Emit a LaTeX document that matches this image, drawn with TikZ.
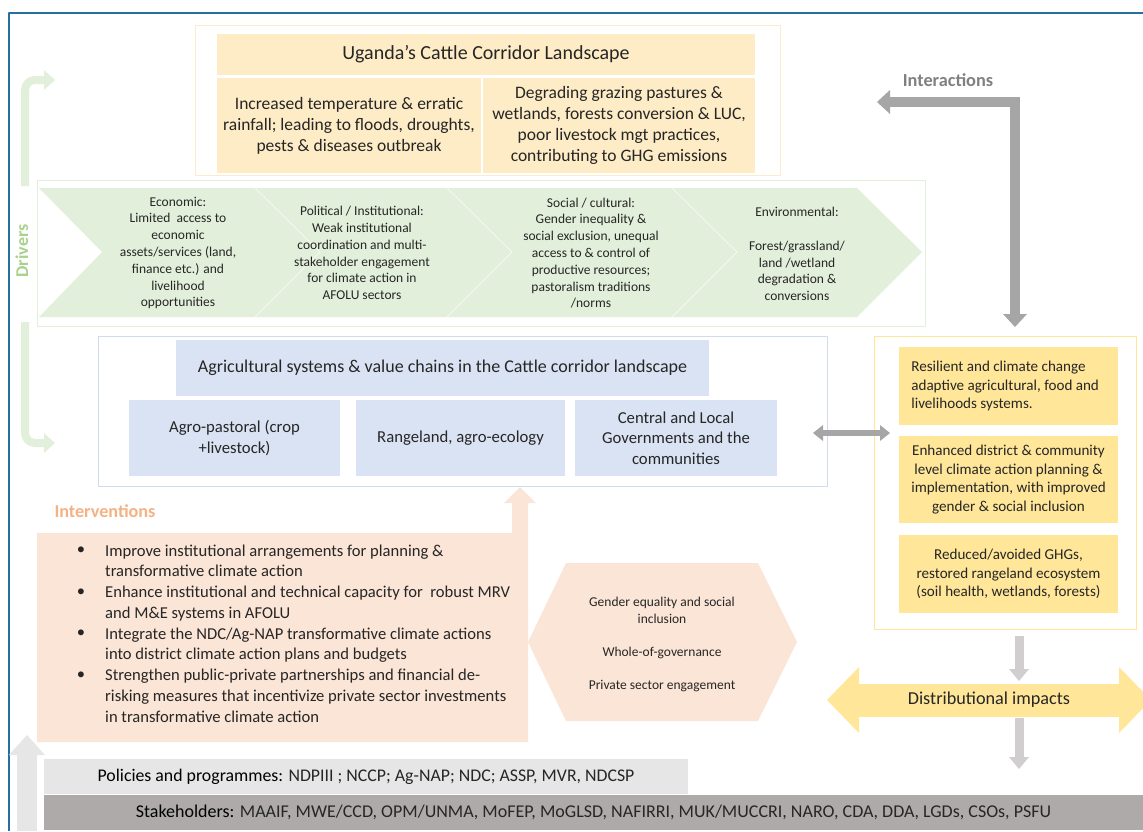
\documentclass[tikz,border=0pt]{standalone}
\usepackage{fontspec}
\setmainfont{Carlito}
\usetikzlibrary{arrows.meta}
\definecolor{frameblue}{RGB}{40,110,160}
\definecolor{sandfill}{RGB}{253,236,198}
\definecolor{sandline}{RGB}{252,236,205}
\definecolor{leaf}{RGB}{226,239,218}
\definecolor{leafdark}{RGB}{169,209,142}
\definecolor{sky}{RGB}{218,227,243}
\definecolor{skyline}{RGB}{208,219,240}
\definecolor{gold}{RGB}{255,230,153}
\definecolor{peach}{RGB}{251,229,214}
\definecolor{peachdark}{RGB}{244,177,131}
\definecolor{arrowgray}{RGB}{166,166,166}
\definecolor{softgray}{RGB}{208,206,206}
\definecolor{barlight}{RGB}{231,230,230}
\definecolor{bardark}{RGB}{174,170,170}
\newcommand{\fsz}[2]{\fontsize{#1}{#2}\selectfont}
\begin{document}
\begin{tikzpicture}[x=1pt,y=-1pt,line join=round,
  every node/.style={text=black!85},
  box/.style={inner sep=0pt,align=center},
  rim/.style={draw=#1,line width=0.8pt,inner sep=0pt},
  drvtext/.style={align=center,font=\fsz{13.5}{16.8}},
  outtext/.style={font=\fsz{15.1}{18.7}}]
	\useasboundingbox (0,0) rectangle (1143,831);
	\draw[frameblue,line width=1.2pt] (9,831) -- (9,13) -- (1143,13);
	\node[rim=sandline,minimum width=585pt,minimum height=150pt] (landscape) at (487.5,100) {};
	\node[box,fill=sandfill,minimum width=538pt,minimum height=41pt,font=\fsz{20}{22}] (ltitle) at (486,54.5) {Uganda’s Cattle Corridor Landscape};
	\node[box,fill=sandfill,minimum width=264pt,minimum height=95pt,font=\fsz{17.5}{21}] (climate) at (349,125.5) {Increased temperature \& erratic\\rainfall; leading to floods, droughts,\\pests \& diseases outbreak};
	\node[box,fill=sandfill,minimum width=272pt,minimum height=95pt,font=\fsz{17.5}{21}] (degrade) at (619,125.5) {Degrading grazing pastures \&\\wetlands, forests conversion \& LUC,\\poor livestock mgt practices,\\contributing to GHG emissions};
	\node[rim=leaf,minimum width=888pt,minimum height=146pt] (drivers) at (481,253) {};
	\fill[leaf] (39,188) -- (857,188) -- (922,252) -- (857,317) -- (39,317) -- (102,252) -- cycle;
	\foreach \a in {255,447,672}
		\draw[white!60!leaf,line width=0.8pt] (\a,188) -- (\a+65,252) -- (\a,317);
	\node[drvtext] (econ) at (178,253) {Economic:\\Limited\ \ access to\\economic\\assets/services (land,\\finance etc.) and\\livelihood\\opportunities};
	\node[drvtext] (polit) at (362,253) {Political / Institutional:\\Weak institutional\\coordination and multi-\\stakeholder engagement\\for climate action in\\AFOLU sectors};
	\node[drvtext] (social) at (591,253) {Social / cultural:\\Gender inequality \&\\social exclusion, unequal\\access to \& control of\\productive resources;\\pastoralism traditions\\/norms};
	\node[drvtext] (envir) at (797,254) {Environmental:\\[16.8pt]Forest/grassland/\\land /wetland\\degradation \&\\conversions};
	\draw[leaf,line width=8pt,rounded corners=10pt,-{Triangle[width=20pt,length=11pt,line width=0pt]}] (25,186) -- (25,80) -- (55,80);
	\draw[leaf,line width=8pt,rounded corners=10pt,-{Triangle[width=20pt,length=11pt,line width=0pt]}] (25,322) -- (25,443) -- (55,443);
	\node[rotate=90,font=\fsz{18}{20}\bfseries,text=leafdark] (drvlabel) at (22,251) {Drivers};
	\node[rim=skyline,minimum width=729pt,minimum height=150pt] (agrframe) at (462.5,411) {};
	\node[box,fill=sky,minimum width=533pt,minimum height=56pt,font=\fsz{18}{20}] (agrtitle) at (442.5,368) {Agricultural systems \& value chains in the Cattle corridor landscape};
	\node[box,fill=sky,minimum width=211pt,minimum height=76pt,font=\fsz{16.7}{20.5}] (agro) at (234.5,438) {Agro-pastoral (crop\\+livestock)};
	\node[box,fill=sky,minimum width=209pt,minimum height=76pt,font=\fsz{16.7}{20.5}] (range) at (460.5,438) {Rangeland, agro-ecology};
	\node[box,fill=sky,minimum width=202pt,minimum height=76pt,font=\fsz{16.7}{20.5}] (gov) at (676,438) {Central and Local\\Governments and the\\communities};
	\node[rim=gold,minimum width=262pt,minimum height=293pt] (outframe) at (1005,482.5) {};
	\node[box,fill=gold,minimum width=219pt,minimum height=78pt] (resil) at (1008.5,386) {};
	\node[outtext,align=left,anchor=west] (resiltxt) at ([xshift=9pt]resil.west) {Resilient and climate change\\adaptive agricultural, food and\\livelihoods systems.};
	\node[box,outtext,fill=gold,minimum width=219pt,minimum height=87pt] (enhan) at (1008.5,479.5) {Enhanced district \& community\\level climate action planning \&\\implementation, with improved\\gender \& social inclusion};
	\node[box,outtext,fill=gold,minimum width=219pt,minimum height=78pt] (reduc) at (1008.5,574) {Reduced/avoided GHGs,\\restored rangeland ecosystem\\(soil health, wetlands, forests)};
	\coordinate (intL) at (877,102);
	\coordinate (intB) at (1015,327);
	\draw[arrowgray,line width=10pt,line join=miter,{Triangle[width=24pt,length=13pt,line width=0pt]}-{Triangle[width=24pt,length=13pt,line width=0pt]}] (intL) -| (intB);
	\node[font=\fsz{18.3}{20}\bfseries,text=black!50] (intlabel) at (948,80) {Interactions};
	\coordinate (linkL) at (813,433);
	\coordinate (linkR) at (890,433);
	\draw[arrowgray,line width=6pt,{Triangle[width=16pt,length=10pt,line width=0pt]}-{Triangle[width=16pt,length=10pt,line width=0pt]}] (linkL) -- (linkR);
	\coordinate (downA) at (1019,636);
	\coordinate (downB) at (1019,681);
	\coordinate (downC) at (1019,718);
	\coordinate (downD) at (1019,769);
	\draw[softgray,line width=9pt,-{Triangle[width=20pt,length=12pt,line width=0pt]}] (downA) -- (downB);
	\draw[softgray,line width=9pt,-{Triangle[width=20pt,length=12pt,line width=0pt]}] (downC) -- (downD);
	\coordinate (distL) at (827,700);
	\coordinate (distR) at (1151,700);
	\draw[gold,line width=33pt,{Triangle[width=66pt,length=32pt,line width=0pt]}-{Triangle[width=66pt,length=32pt,line width=0pt]}] (distL) -- (distR);
	\node[font=\fsz{18.2}{20}] (distimp) at (989,700) {Distributional impacts};
	\node[font=\fsz{18.2}{20}\bfseries,text=peachdark] (intvlabel) at (105,511) {Interventions};
	\fill[peach] (37,533) -- (512,533) -- (512,503) -- (504,503) -- (520,487) -- (536,503) -- (528,503) -- (528,742) -- (37,742) -- cycle;
	\foreach \t [count=\i] in {Improve institutional arrangements for planning \&,transformative climate action,Enhance institutional and technical capacity for\ \ robust MRV,and M\&E systems in AFOLU,Integrate the NDC/Ag-NAP transformative climate actions,into district climate action plans and budgets,Strengthen public-private partnerships and financial de-,risking measures that incentivize private sector investments,in transformative climate action}
		\node[anchor=base west,inner sep=0pt,font=\fsz{16.6}{18}] (line\i) at (105,556+20.75*\i-20.75) {\t};
	\foreach \i in {1,...,4}
		\node[inner sep=0pt,font=\fsz{16.6}{18}] (bullet\i) at (81,551+41.5*\i-41.5) {\textbullet};
	\fill[peach] (528,642) -- (566,563) -- (758,563) -- (797,642) -- (758,721) -- (566,721) -- cycle;
	\node[align=center,font=\fsz{13.5}{17}] (hextext) at (662,644) {Gender equality and social\\inclusion\\[16pt]Whole-of-governance\\[16pt]Private sector engagement};
	\draw[barlight,line width=20pt,-{Triangle[width=36pt,length=20pt,line width=0pt]}] (27,831) -- (27,735);
	\node[box,fill=barlight,minimum width=644pt,minimum height=35pt,font=\fsz{17.8}{18}] (policy) at (366,776.5) {\textcolor{black}{Policies and programmes:} NDPIII ; NCCP; Ag-NAP; NDC; ASSP, MVR, NDCSP};
	\node[box,fill=bardark,minimum width=1099pt,minimum height=35pt,font=\fsz{18}{18}] (stake) at (593.5,812.5) {\textcolor{black}{Stakeholders:} MAAIF, MWE/CCD, OPM/UNMA, MoFEP, MoGLSD, NAFIRRI, MUK/MUCCRI, NARO, CDA, DDA, LGDs, CSOs, PSFU};
\end{tikzpicture}
\end{document}
